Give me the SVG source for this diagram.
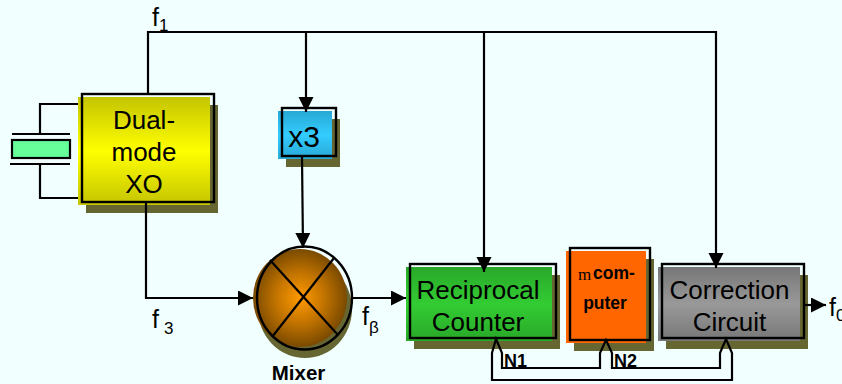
<svg xmlns="http://www.w3.org/2000/svg" width="842" height="384" viewBox="0 0 842 384">
<style>
text{font-family:"Liberation Sans",Arial,sans-serif;fill:#000}
.big{font-size:26px;text-anchor:middle}
.lab{font-size:25px}
.sub{font-size:17px}
.bold{font-weight:bold}
.cpu{font-size:17.500px;font-weight:bold}
.serif{font-family:"Liberation Serif","Times New Roman",serif;font-size:17px}
.sh{fill:#666633}
.ol{fill:none;stroke:#000;stroke-width:2.400}
.ln{fill:none;stroke:#000;stroke-width:2.200}
</style>
<defs>
<linearGradient id="gy" x1="0" y1="0" x2="0" y2="1"><stop offset="0" stop-color="#c4c400"/><stop offset=".5" stop-color="#ffff00"/><stop offset="1" stop-color="#c4c400"/></linearGradient>
<linearGradient id="gb" x1="0" y1="0" x2="0" y2="1"><stop offset="0" stop-color="#28a8d4"/><stop offset=".5" stop-color="#33ccff"/><stop offset="1" stop-color="#28a8d4"/></linearGradient>
<linearGradient id="gg" x1="0" y1="0" x2="0" y2="1"><stop offset="0" stop-color="#29a829"/><stop offset=".5" stop-color="#33cc33"/><stop offset="1" stop-color="#29a829"/></linearGradient>
<linearGradient id="gr" x1="0" y1="0" x2="0" y2="1"><stop offset="0" stop-color="#777777"/><stop offset=".5" stop-color="#999999"/><stop offset="1" stop-color="#777777"/></linearGradient>
<radialGradient id="gm"><stop offset="0" stop-color="#ff9900"/><stop offset=".5" stop-color="#c47500"/><stop offset="1" stop-color="#7a4a00"/></radialGradient>
<marker id="ah" markerUnits="userSpaceOnUse" markerWidth="17" markerHeight="17" refX="15" refY="7.500" orient="auto"><path d="M0 0L15 7.500L0 15Z" fill="#000"/></marker>
</defs>
<rect width="842" height="384" fill="#f2ffff"/>
<g id="crystal">
<path class="ln" d="M81 104H40V134M40 165V198H81M12 134H70M10 164H70"/>
<rect x="12" y="140" width="58" height="18" fill="#66ff99" stroke="#000" stroke-width="2.200"/>
</g>
<g id="dual-mode-xo">
<rect class="sh" x="86" y="105" width="132" height="108"/>
<rect x="78" y="97" width="132" height="108" fill="url(#gy)"/>
<rect class="ol" x="82" y="94" width="132" height="108"/>
<text class="big" x="144" y="129">Dual-</text>
<text class="big" x="144" y="161">mode</text>
<text class="big" x="144" y="193">XO</text>
</g>
<g id="x3">
<rect class="sh" x="286" y="119" width="54" height="48"/>
<rect x="278" y="111" width="54" height="48" fill="url(#gb)"/>
<rect class="ol" x="282" y="108" width="54" height="48"/>
<text x="304" y="147" font-size="30" text-anchor="middle">x3</text>
</g>
<g id="mixer">
<ellipse class="sh" cx="305" cy="309" rx="47" ry="49"/>
<ellipse cx="300" cy="298" rx="47" ry="49" fill="url(#gm)"/>
<ellipse class="ol" cx="304.500" cy="298" rx="47.500" ry="51.500"/>
<path class="ln" d="M270 260L338 335M334 258L272 337"/>
<text class="bold" x="298.500" y="380" font-size="20.500" text-anchor="middle">Mixer</text>
</g>
<g id="reciprocal-counter">
<rect class="sh" x="414" y="275" width="146" height="74"/>
<rect x="406" y="267" width="146" height="74" fill="url(#gg)"/>
<rect class="ol" x="410" y="264" width="146" height="74"/>
<text class="big" x="478" y="299">Reciprocal</text>
<text class="big" x="478" y="331">Counter</text>
</g>
<g id="computer">
<rect class="sh" x="574" y="259" width="80" height="92"/>
<rect x="566" y="251" width="80" height="92" fill="#ff6600"/>
<rect class="ol" x="570" y="248" width="80" height="92"/>
<text class="serif" x="578" y="280">m</text>
<text class="cpu" x="593" y="279">com-</text>
<text class="cpu" x="605" y="309" text-anchor="middle">puter</text>
</g>
<g id="correction-circuit">
<rect class="sh" x="666" y="275" width="142" height="74"/>
<rect x="658" y="267" width="142" height="74" fill="url(#gr)"/>
<rect class="ol" x="662" y="264" width="142" height="74"/>
<text class="big" x="729.500" y="299">Correction</text>
<text class="big" x="729.500" y="331">Circuit</text>
</g>
<g id="connectors">
<path class="ln" d="M148 93V32H716V268" marker-end="url(#ah)"/>
<path class="ln" d="M306 32V112" marker-end="url(#ah)"/>
<path class="ln" d="M484 32V272" marker-end="url(#ah)"/>
<path class="ln" d="M302 157L303 248" marker-end="url(#ah)"/>
<path class="ln" d="M146 203V298H253" marker-end="url(#ah)"/>
<path class="ln" d="M352 298H406" marker-end="url(#ah)"/>
<path class="ln" d="M804 305H826" marker-end="url(#ah)"/>
<path class="ln" d="M496 339L492 353V380H732V353L726 339L720 353V368H612V353L606 340L600 353V368H502V353Z"/>
</g>
<g id="labels">
<text class="lab" x="152" y="26">f</text><text class="sub" x="159" y="31">1</text>
<text class="lab" x="152" y="328">f</text><text class="sub" x="164" y="334" font-size="18">3</text>
<text class="lab" x="362" y="325">f</text><text class="sub" x="369" y="333">β</text>
<text class="lab" x="829" y="316">f</text><text class="sub" x="836" y="321">0</text>
<text class="bold" x="504" y="367" font-size="18">N1</text>
<text class="bold" x="614" y="367" font-size="18">N2</text>
</g>
</svg>
